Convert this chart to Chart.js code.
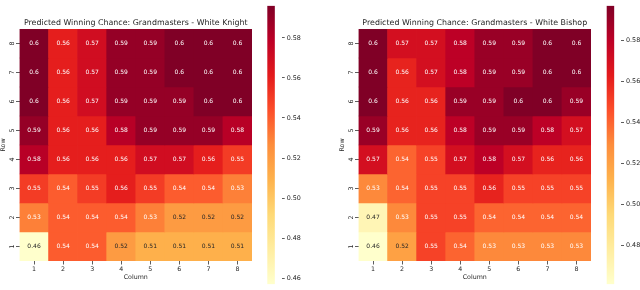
<!DOCTYPE html>
<html>
<head>
<meta charset="utf-8">
<script src="https://cdn.jsdelivr.net/npm/chart.js@4"></script>
<style>
  html, body { margin: 0; padding: 0; background: #fff; }
  #wrap { position: relative; width: 640px; height: 290px; overflow: hidden; }
  .box { position: absolute; top: 0; height: 290px; }
</style>
</head>
<body>
<div id="wrap">
  <div class="box" style="left:0;width:262px"><canvas id="knight"></canvas></div>
  <div class="box" style="left:262px;width:58px"><canvas id="knightBar"></canvas></div>
  <div class="box" style="left:339px;width:262px"><canvas id="bishop"></canvas></div>
  <div class="box" style="left:601px;width:39px"><canvas id="bishopBar"></canvas></div>
</div>
<script>
// columns left to right, rows listed top (8) to bottom (1)
const columns = ['1', '2', '3', '4', '5', '6', '7', '8'];
const rows = [8, 7, 6, 5, 4, 3, 2, 1];

const knightValues = [
  [0.596, 0.56, 0.57, 0.59, 0.59, 0.596, 0.596, 0.596],
  [0.596, 0.56, 0.57, 0.59, 0.59, 0.596, 0.596, 0.596],
  [0.596, 0.56, 0.57, 0.59, 0.59, 0.59, 0.596, 0.596],
  [0.59, 0.56, 0.56, 0.58, 0.59, 0.59, 0.59, 0.58],
  [0.58, 0.56, 0.56, 0.56, 0.57, 0.57, 0.56, 0.55],
  [0.55, 0.54, 0.55, 0.56, 0.55, 0.54, 0.54, 0.53],
  [0.53, 0.54, 0.54, 0.54, 0.53, 0.52, 0.52, 0.52],
  [0.457, 0.54, 0.54, 0.52, 0.51, 0.51, 0.51, 0.51]
];

const bishopValues = [
  [0.597, 0.57, 0.57, 0.58, 0.59, 0.59, 0.597, 0.597],
  [0.597, 0.56, 0.57, 0.58, 0.59, 0.59, 0.597, 0.597],
  [0.597, 0.56, 0.56, 0.59, 0.59, 0.597, 0.597, 0.59],
  [0.59, 0.56, 0.56, 0.58, 0.59, 0.59, 0.58, 0.57],
  [0.57, 0.54, 0.55, 0.57, 0.58, 0.57, 0.56, 0.56],
  [0.53, 0.54, 0.55, 0.55, 0.56, 0.55, 0.55, 0.55],
  [0.47, 0.53, 0.55, 0.55, 0.54, 0.54, 0.54, 0.54],
  [0.461, 0.52, 0.55, 0.54, 0.53, 0.53, 0.53, 0.53]
];

const titles = [
  'Predicted Winning Chance: Grandmasters - White Knight',
  'Predicted Winning Chance: Grandmasters - White Bishop'
];

// YlOrRd
const cmap = ['#ffffcc', '#ffeda0', '#fed976', '#feb24c', '#fd8d3c', '#fc4e2a', '#e31a1c', '#bd0026', '#800026'];
const FONT = "'DejaVu Sans', sans-serif";
const TEXT = '#262626';

function hexToRgb(h) {
  return [parseInt(h.slice(1, 3), 16), parseInt(h.slice(3, 5), 16), parseInt(h.slice(5, 7), 16)];
}

function colorAt(t) {
  t = Math.max(0, Math.min(1, t));
  const pos = t * (cmap.length - 1);
  const i = Math.min(Math.floor(pos), cmap.length - 2);
  const f = pos - i;
  const a = hexToRgb(cmap[i]), b = hexToRgb(cmap[i + 1]);
  return a.map((c, k) => Math.round(c + (b[k] - c) * f));
}

function luminance(rgb) {
  const lin = rgb.map(c => {
    c = c / 255;
    return c <= 0.03928 ? c / 12.92 : Math.pow((c + 0.055) / 1.055, 2.4);
  });
  return 0.2126 * lin[0] + 0.7152 * lin[1] + 0.0722 * lin[2];
}

// annotate each cell in its centre, seaborn style
const annotate = {
  id: 'annotate',
  afterDatasetsDraw(chart) {
    const ctx = chart.ctx;
    ctx.save();
    ctx.font = '6px ' + FONT;
    ctx.textAlign = 'center';
    ctx.textBaseline = 'middle';
    chart.data.datasets.forEach((ds, di) => {
      chart.getDatasetMeta(di).data.forEach((bar, i) => {
        const v = ds.values[i];
        ctx.fillStyle = luminance(ds.rgb[i]) > 0.408 ? TEXT : '#ffffff';
        ctx.fillText(String(Number(v.toPrecision(2))), bar.x, (bar.y + bar.base) / 2);
      });
    });
    ctx.restore();
  }
};

function heatmap(id, values, title) {
  const flat = values.flat();
  const vmin = Math.min(...flat), vmax = Math.max(...flat);
  const datasets = rows.map((r, ri) => {
    const rgb = values[ri].map(v => colorAt((v - vmin) / (vmax - vmin)));
    return {
      data: values[ri].map(() => [r - 0.5, r + 0.5]),
      values: values[ri],
      rgb: rgb,
      backgroundColor: rgb.map(c => `rgb(${c[0]},${c[1]},${c[2]})`),
      borderWidth: 0,
      grouped: false,
      barPercentage: 1,
      categoryPercentage: 1
    };
  });

  new Chart(document.getElementById(id), {
    type: 'bar',
    data: { labels: columns, datasets: datasets },
    options: {
      responsive: true,
      maintainAspectRatio: false,
      animation: false,
      layout: { padding: { left: 0, right: 10, top: 0, bottom: 0 } },
      plugins: {
        legend: { display: false },
        tooltip: { enabled: false },
        title: {
          display: true,
          text: title,
          fullSize: false,
          color: TEXT,
          font: { family: FONT, size: 7.9, weight: 'normal' },
          padding: { top: 17.9, bottom: 1.6 }
        }
      },
      scales: {
        x: {
          offset: true,
          afterFit: s => { s.height = 29; },
          grid: { offset: false, drawOnChartArea: false, drawTicks: true, tickLength: 3.5, color: '#333', lineWidth: 0.8 },
          border: { display: false },
          ticks: { color: TEXT, font: { family: FONT, size: 6.3 }, padding: 1.5, maxRotation: 0 },
          title: { display: true, text: 'Column', color: TEXT, font: { family: FONT, size: 6.3 }, padding: { top: 0, bottom: 8.5 } }
        },
        y: {
          min: 0.5,
          max: 8.5,
          afterFit: s => { s.width = 19.5; },
          afterBuildTicks: s => { s.ticks = rows.map(r => ({ value: r })); },
          grid: { drawOnChartArea: false, drawTicks: true, tickLength: 3.5, color: '#333', lineWidth: 0.8 },
          border: { display: false },
          ticks: { minRotation: 90, maxRotation: 90, crossAlign: 'center', color: TEXT, font: { family: FONT, size: 6.3 }, padding: 2 },
          title: { display: true, text: 'Row', color: TEXT, font: { family: FONT, size: 6.3 }, padding: { top: 0, bottom: 0 } }
        }
      }
    },
    plugins: [annotate]
  });
  return [vmin, vmax];
}

function colorbar(id, vmin, vmax, padLeft, padRight, axisWidth) {
  new Chart(document.getElementById(id), {
    type: 'bar',
    data: {
      labels: [''],
      datasets: [{
        data: [[vmin, vmax]],
        borderWidth: 0,
        barPercentage: 1,
        categoryPercentage: 1,
        backgroundColor: (c) => {
          const chart = c.chart;
          if (!chart.chartArea) return null;
          const y = chart.scales.y;
          const g = chart.ctx.createLinearGradient(0, y.getPixelForValue(vmin), 0, y.getPixelForValue(vmax));
          cmap.forEach((col, i) => g.addColorStop(i / (cmap.length - 1), col));
          return g;
        }
      }]
    },
    options: {
      responsive: true,
      maintainAspectRatio: false,
      animation: false,
      layout: { padding: { left: padLeft, right: padRight, top: 1, bottom: 1 } },
      plugins: { legend: { display: false }, tooltip: { enabled: false } },
      scales: {
        x: { display: false, offset: false },
        y: {
          position: 'right',
          min: vmin,
          max: vmax,
          afterFit: s => { s.width = axisWidth; },
          grid: { drawOnChartArea: false, drawTicks: true, tickLength: 3, color: '#333', lineWidth: 0.8 },
          border: { display: false },
          ticks: {
            stepSize: 0.02,
            includeBounds: false,
            color: TEXT,
            font: { family: FONT, size: 6.4 },
            padding: 2,
            callback: v => v.toFixed(2)
          }
        }
      }
    }
  });
}

const kRange = heatmap('knight', knightValues, titles[0]);
const bRange = heatmap('bishop', bishopValues, titles[1]);
colorbar('knightBar', kRange[0], kRange[1], 5.3, 8.3, 30);
colorbar('bishopBar', bRange[0], bRange[1], 5.7, 0, 19);
</script>
</body>
</html>
